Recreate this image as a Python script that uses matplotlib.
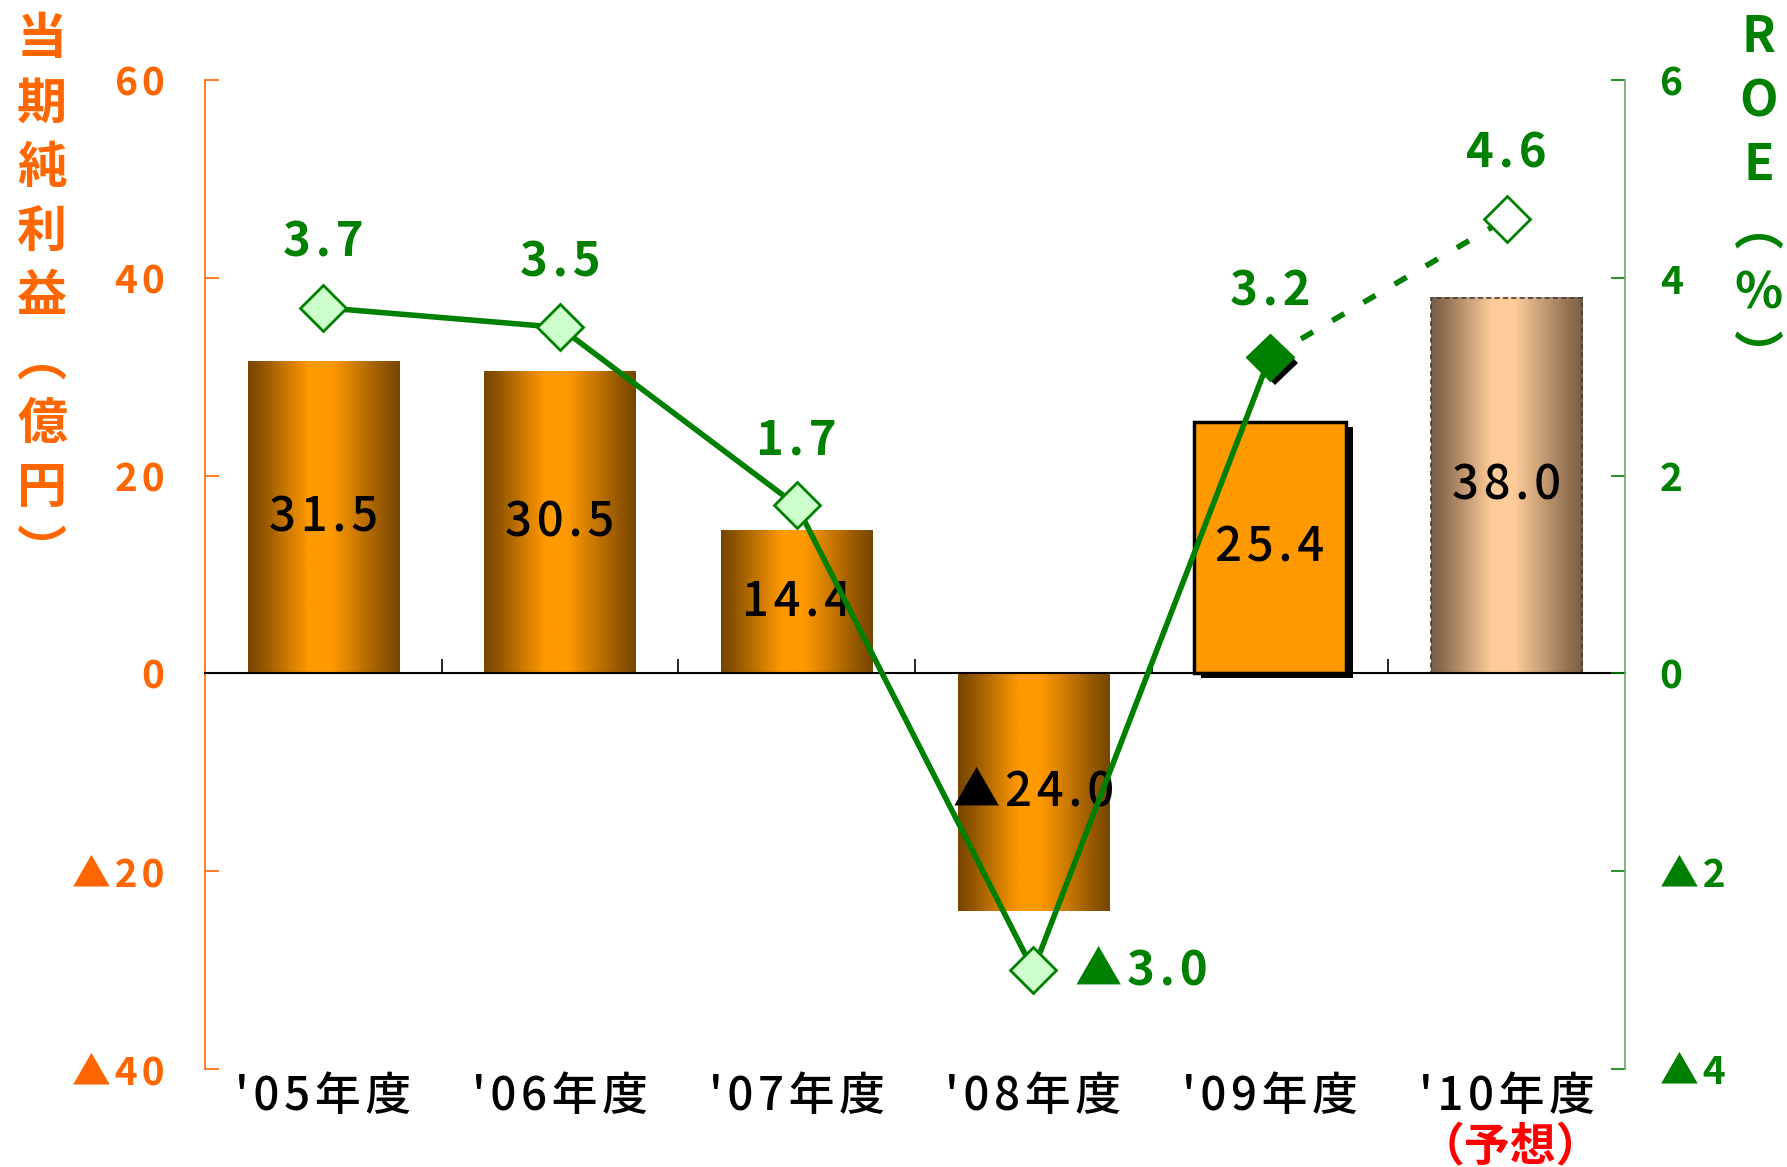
import numpy as np
import matplotlib
matplotlib.use('Agg')
import matplotlib.pyplot as plt
from matplotlib import patheffects as pe
from matplotlib.colors import to_rgb

plt.rcParams['font.family'] = ['Noto Sans CJK JP', 'DejaVu Sans']

# 年度別データ
years = ["'05年度", "'06年度", "'07年度", "'08年度", "'09年度", "'10年度"]
profit = [31.5, 30.5, 14.4, -24.0, 25.4, 38.0]   # 当期純利益（億円）
roe = [3.7, 3.5, 1.7, -3.0, 3.2, 4.6]             # ROE（%）
profit_ticks = [-40, -20, 0, 20, 40, 60]
roe_ticks = [-4, -2, 0, 2, 4, 6]
forecast_note = '（予想）'
left_title = '当期純利益︵億円︶'
right_title = 'ROE︵%︶'

ORANGE = '#FF6600'
GREEN = '#008000'


def sp(s):
    # 文字間を少し空ける
    return '\u200a'.join(s)


def fmt(v, nd=1):
    # マイナスは▲表記
    s = f'{abs(v):.{nd}f}'
    return sp('▲' + s if v < 0 else s)


def cylinder(c_edge, c_mid, n=256):
    # 円柱風の横グラデーション
    t = np.linspace(0, 1, n)
    k = np.interp(t, [0, 0.08, 0.4, 0.55, 0.92, 1], [0, 0.15, 1, 1, 0.15, 0])
    e = np.array(to_rgb(c_edge))
    m = np.array(to_rgb(c_mid))
    return (e + (m - e) * k[:, None])[None, :, :]


fig = plt.figure(figsize=(17.87, 11.67), dpi=100)
ax = fig.add_axes([0.1147, 0.084, 0.7946, 0.8472])

x = np.arange(len(years))
w = 0.64
bars = ax.bar(x, profit, w, color='none', edgecolor='none', zorder=2)

# 実績（'05〜'08）はグラデーション
for i in range(4):
    v = profit[i]
    ax.imshow(cylinder('#784600', '#FF9900'), aspect='auto', interpolation='bilinear',
              extent=[x[i] - w / 2, x[i] + w / 2, min(0, v), max(0, v)], zorder=1)

# '09は影付きの単色
bars[4].set_facecolor('#FF9900')
bars[4].set_edgecolor('black')
bars[4].set_linewidth(2.5)
bars[4].set_path_effects([pe.SimplePatchShadow(offset=(5, -3), shadow_rgbFace='black', alpha=1),
                          pe.Normal()])

# '10（予想）は淡色＋破線枠
ax.imshow(cylinder('#7A5E44', '#FFCC99'), aspect='auto', interpolation='bilinear',
          extent=[x[5] - w / 2, x[5] + w / 2, 0, profit[5]], zorder=1)
bars[5].set_edgecolor('#404040')
bars[5].set_linestyle((0, (3, 2)))
bars[5].set_linewidth(1.2)

for i, v in enumerate(profit):
    ax.text(x[i], v / 2, fmt(v), ha='center', va='center', fontsize=34,
            weight='medium', color='black', zorder=3)

ax.set_xlim(-0.5, 5.5)
ax.set_ylim(-40, 60)
ax.set_yticks(profit_ticks, [fmt(t, 0) for t in profit_ticks])
ax.tick_params(axis='y', direction='in', length=10, width=1.2, color=ORANGE,
               labelcolor=ORANGE, labelsize=28, pad=29)
for t in ax.get_yticklabels():
    t.set_fontweight('bold')
ax.set_xticks([])
ax.set_xticks(x[:-1] + 0.5, minor=True)
ax.tick_params(axis='x', which='minor', direction='in', length=10, width=1.2, color='black')
for s in ('top', 'right'):
    ax.spines[s].set_visible(False)
ax.spines['left'].set_color(ORANGE)
ax.spines['left'].set_linewidth(1.2)
ax.spines['bottom'].set_position(('data', 0))
ax.spines['bottom'].set_linewidth(1.5)

for i, lab in enumerate(years):
    ax.annotate(sp(lab), (x[i], -40), xytext=(0, -3), textcoords='offset points',
                ha='center', va='top', fontsize=33, weight='medium', color='black',
                annotation_clip=False)
ax.annotate(forecast_note, (x[5], -40), xytext=(3, -40), textcoords='offset points',
            ha='center', va='top', fontsize=33, color='red', weight='bold',
            annotation_clip=False)

# ROE（右軸）
ax2 = ax.twinx()
ax2.set_ylim(-4, 6)
ax2.set_yticks(roe_ticks, [fmt(t, 0) for t in roe_ticks])
ax2.tick_params(axis='y', direction='in', length=10, width=1.2, color=GREEN,
                labelcolor=GREEN, labelsize=28, pad=25)
for t in ax2.get_yticklabels():
    t.set_fontweight('bold')
for s in ('top', 'left', 'bottom'):
    ax2.spines[s].set_visible(False)
ax2.spines['right'].set_color('#66AA66')
ax2.spines['right'].set_linewidth(1.2)

ax2.plot(x[:5], roe[:5], color=GREEN, lw=4, zorder=3)
ax2.plot(x[4:], roe[4:], color=GREEN, lw=4, ls=(0, (2.5, 4)), zorder=3)
ax2.plot(x[:4], roe[:4], 'D', ms=23, mfc='#CCFFCC', mec=GREEN, mew=2, zorder=4)
ax2.plot(x[4], roe[4], 'D', ms=23, mfc=GREEN, mec=GREEN, mew=2, zorder=4,
         path_effects=[pe.SimplePatchShadow(offset=(4, -4), shadow_rgbFace='black', alpha=1),
                       pe.Normal()])
ax2.plot(x[5], roe[5], 'D', ms=23, mfc='white', mec=GREEN, mew=2, zorder=4)

for i, v in enumerate(roe):
    if v < 0:
        ax2.annotate(fmt(v), (x[i], v), xytext=(30, 0), textcoords='offset points',
                     ha='left', va='center', fontsize=34, weight='bold', color=GREEN)
    else:
        ax2.annotate(fmt(v), (x[i], v), xytext=(0, 47), textcoords='offset points',
                     ha='center', va='center', fontsize=34, weight='bold', color=GREEN)

# 縦書きの軸タイトル
for k, ch in enumerate(left_title):
    fig.text(42 / 1787, 1 - (40 + 64.1 * k) / 1167, ch, ha='center', va='center',
             fontsize=36, weight='bold', color=ORANGE)
for k, ch in enumerate(right_title):
    fig.text(1759 / 1787, 1 - (38 + 64 * k) / 1167, ch, ha='center', va='center',
             fontsize=36, weight='bold', color=GREEN)

fig.savefig('out.png', dpi=100)
